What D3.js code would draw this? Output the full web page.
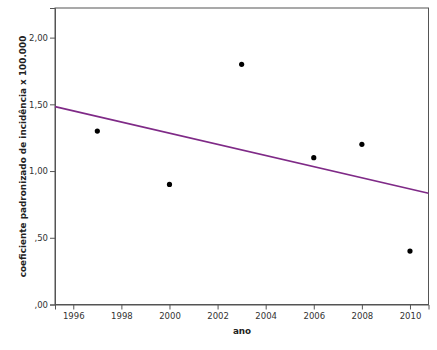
<!DOCTYPE html>
<html><head><meta charset="utf-8">
<script src="https://cdn.jsdelivr.net/npm/d3@7"></script>
<style>body{margin:0;background:#fff}svg{display:block}</style>
</head><body>
<script>
const years = [1997, 2000, 2003, 2006, 2008, 2010];
const values = [1.30, 0.90, 1.80, 1.10, 1.20, 0.40];
const xTicks = [1996, 1998, 2000, 2002, 2004, 2006, 2008, 2010];
const yTicks = [0, 0.5, 1.0, 1.5, 2.0];
const yTickLabels = [",00", ",50", "1,00", "1,50", "2,00"];
const xLabel = "ano";
const yLabel = "coeficiente padronizado de incidência x 100.000";

const W = 437, H = 350;
const m = {left: 55, top: 8, right: 428.5, bottom: 304.5};
const svg = d3.select("body").append("svg").attr("width", W).attr("height", H);
const x = d3.scaleLinear().domain([1995.24, 2010.77]).range([m.left, m.right]);
const y = d3.scaleLinear().domain([0, 2.222]).range([m.bottom, m.top]);
const font = "DejaVu Sans";

svg.append("rect").attr("x", m.left).attr("y", m.top)
  .attr("width", m.right - m.left).attr("height", m.bottom - m.top)
  .attr("fill", "#fff").attr("stroke", "#555").attr("stroke-width", 1);

const xa = svg.append("g").attr("transform", `translate(0,${m.bottom})`)
  .call(d3.axisBottom(x).tickValues(xTicks).tickFormat(d3.format("d")).tickSize(5).tickPadding(3));
const ya = svg.append("g").attr("transform", `translate(${m.left},0)`)
  .call(d3.axisLeft(y).tickValues(yTicks).tickFormat((d, i) => yTickLabels[i]).tickSize(5).tickPadding(2));
[xa, ya].forEach(a => {
  a.select(".domain").attr("stroke", "#555");
  a.selectAll(".tick line").attr("stroke", "#555");
  a.selectAll(".tick text").attr("fill", "#333").style("font-family", font).style("font-size", "8.5px");
});

// OLS fit line
const mx = d3.mean(years), my = d3.mean(values);
const slope = d3.sum(years, (d, i) => (d - mx) * (values[i] - my)) / d3.sum(years, d => (d - mx) ** 2);
const [x0, x1] = x.domain();
svg.append("line")
  .attr("x1", x(x0)).attr("y1", y(my + slope * (x0 - mx)))
  .attr("x2", x(x1)).attr("y2", y(my + slope * (x1 - mx)))
  .attr("stroke", "#7f2a87").attr("stroke-width", 1.6);

svg.selectAll("circle.pt").data(years).enter().append("circle")
  .attr("cx", d => x(d)).attr("cy", (d, i) => y(values[i])).attr("r", 2.6).attr("fill", "#000");

svg.append("text").attr("x", 242).attr("y", 334).attr("text-anchor", "middle")
  .style("font-family", font).style("font-size", "8.8px").style("font-weight", "bold").attr("fill", "#222").text(xLabel);
svg.append("text").attr("transform", "translate(26,156.5) rotate(-90)").attr("text-anchor", "middle")
  .style("font-family", font).style("font-size", "8.9px").style("font-weight", "bold").attr("fill", "#222").text(yLabel);
</script>
</body></html>
